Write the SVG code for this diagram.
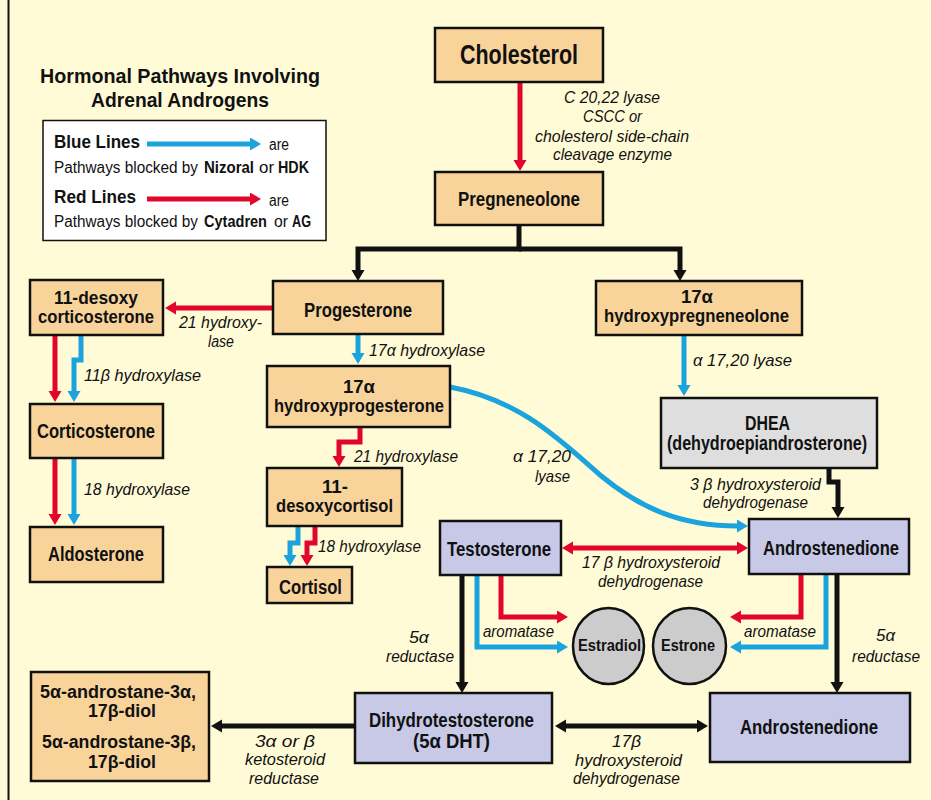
<svg xmlns="http://www.w3.org/2000/svg" width="931" height="800" viewBox="0 0 931 800">
<defs>
<style>
.bg{fill:#FFFBD6}
.box{stroke:#111;stroke-width:2.5}
.o{fill:#F8D49A}
.l{fill:#C7C9E7}
.g{fill:#DEDEDE}
.c{fill:#CCCCCC}
text{font-family:"Liberation Sans Narrow","Liberation Sans",Arial,sans-serif;fill:#111}
.b{font-weight:bold;font-size:20px}
.b2{font-weight:bold;font-size:18px}
.i{font-style:italic;font-size:17px}
.r{font-size:16px}
.bt{font-weight:bold}
.ln{fill:none;stroke-width:5;stroke-linejoin:miter}
.red{stroke:#E2062C}
.blu{stroke:#1BA3DD}
.blk{stroke:#111}
</style>
<marker id="ar" markerUnits="userSpaceOnUse" markerWidth="14" markerHeight="14" refX="1" refY="6.5" orient="auto-start-reverse"><path d="M0,0 L11,6.5 L0,13 Z" fill="#E2062C"/></marker>
<marker id="ab" markerUnits="userSpaceOnUse" markerWidth="14" markerHeight="14" refX="1" refY="6.5" orient="auto-start-reverse"><path d="M0,0 L11,6.5 L0,13 Z" fill="#1BA3DD"/></marker>
<marker id="ak" markerUnits="userSpaceOnUse" markerWidth="14" markerHeight="14" refX="1" refY="6.5" orient="auto-start-reverse"><path d="M0,0 L11,6.5 L0,13 Z" fill="#111"/></marker>
</defs>
<rect class="bg" x="0" y="0" width="931" height="800"/>
<line x1="8.5" y1="0" x2="8.5" y2="800" stroke="#111" stroke-width="2"/>

<g id="title">
<text class="b" style="font-size:21px" x="40" y="83" textLength="280" lengthAdjust="spacingAndGlyphs">Hormonal Pathways Involving</text>
<text class="b" style="font-size:21px" x="91" y="107" textLength="178" lengthAdjust="spacingAndGlyphs">Adrenal Androgens</text>
</g>

<g id="legend">
<rect x="43" y="120.5" width="283" height="120" fill="#fff" stroke="#111" stroke-width="1.5"/>
<text class="b" style="font-size:18.5px" x="54" y="148" textLength="86" lengthAdjust="spacingAndGlyphs">Blue Lines</text>
<line class="ln blu" x1="147" y1="144" x2="251" y2="144" marker-end="url(#ab)"/>
<text class="r" x="269" y="150" textLength="20" lengthAdjust="spacingAndGlyphs">are</text>
<text class="r" x="54" y="173"><tspan textLength="144" lengthAdjust="spacingAndGlyphs">Pathways blocked by</tspan><tspan x="204" class="bt" textLength="50" lengthAdjust="spacingAndGlyphs">Nizoral</tspan><tspan x="259" textLength="15" lengthAdjust="spacingAndGlyphs">or</tspan><tspan x="278" class="bt" textLength="31" lengthAdjust="spacingAndGlyphs">HDK</tspan></text>
<text class="b" style="font-size:18.5px" x="54" y="203" textLength="82" lengthAdjust="spacingAndGlyphs">Red Lines</text>
<line class="ln red" x1="147" y1="199" x2="251" y2="199" marker-end="url(#ar)"/>
<text class="r" x="269" y="206" textLength="20" lengthAdjust="spacingAndGlyphs">are</text>
<text class="r" x="54" y="227"><tspan textLength="144" lengthAdjust="spacingAndGlyphs">Pathways blocked by</tspan><tspan x="204" class="bt" textLength="63" lengthAdjust="spacingAndGlyphs">Cytadren</tspan><tspan x="274" textLength="14" lengthAdjust="spacingAndGlyphs">or</tspan><tspan x="292" class="bt" textLength="19" lengthAdjust="spacingAndGlyphs">AG</tspan></text>
</g>

<g id="connectors">
<path class="ln red" d="M520,82 V161" marker-end="url(#ar)"/>
<path class="ln blk" d="M519,225 V249 H358 V271" marker-end="url(#ak)"/>
<path class="ln blk" d="M519,249 H680 V271" marker-end="url(#ak)"/>
<path class="ln red" d="M273,308 H175" marker-end="url(#ar)"/>
<path class="ln red" d="M55,335 V392" marker-end="url(#ar)"/>
<path class="ln blu" d="M81,335 V360 H74 V392" marker-end="url(#ab)"/>
<path class="ln red" d="M55,458 V515" marker-end="url(#ar)"/>
<path class="ln blu" d="M74,458 V515" marker-end="url(#ab)"/>
<path class="ln blu" d="M358,334 V354" marker-end="url(#ab)"/>
<path class="ln red" d="M360,427 V442 H339 V457" marker-end="url(#ar)"/>
<path class="ln blu" d="M298,526 V543 H290 V556" marker-end="url(#ab)"/>
<path class="ln red" d="M315,526 V543 H307 V556" marker-end="url(#ar)"/>
<path class="ln blu" d="M450,387 C520,400 560,440 600,475 C640,508 680,526 738,526" marker-end="url(#ab)"/>
<path class="ln blu" d="M684,335 V386" marker-end="url(#ab)"/>
<path class="ln blk" d="M829,468 V482 H838 V508" marker-end="url(#ak)"/>
<path class="ln red" d="M572,548 H738" marker-start="url(#ar)" marker-end="url(#ar)"/>
<path class="ln blk" d="M462,576 V683" marker-end="url(#ak)"/>
<path class="ln blu" d="M477,576 V647 H558" marker-end="url(#ab)"/>
<path class="ln red" d="M501,576 V617 H558" marker-end="url(#ar)"/>
<path class="ln red" d="M801,574 V617 H740" marker-end="url(#ar)"/>
<path class="ln blu" d="M826,574 V647 H740" marker-end="url(#ab)"/>
<path class="ln blk" d="M837,574 V683" marker-end="url(#ak)"/>
<path class="ln blk" d="M565,726 H698" marker-start="url(#ak)" marker-end="url(#ak)"/>
<path class="ln blk" d="M355,726 H221" marker-end="url(#ak)"/>
</g>

<g id="labels">
<text class="i" x="564" y="103" textLength="96" lengthAdjust="spacingAndGlyphs">C 20,22 lyase</text>
<text class="i" x="583" y="122" textLength="59" lengthAdjust="spacingAndGlyphs">CSCC or</text>
<text class="i" x="535" y="142" textLength="154" lengthAdjust="spacingAndGlyphs">cholesterol side-chain</text>
<text class="i" x="553" y="160" textLength="119" lengthAdjust="spacingAndGlyphs">cleavage enzyme</text>
<text class="i" x="179" y="328" textLength="83" lengthAdjust="spacingAndGlyphs">21 hydroxy-</text>
<text class="i" x="208" y="347" textLength="26" lengthAdjust="spacingAndGlyphs">lase</text>
<text class="i" x="84" y="381" textLength="117" lengthAdjust="spacingAndGlyphs">11β hydroxylase</text>
<text class="i" x="84" y="495" textLength="106" lengthAdjust="spacingAndGlyphs">18 hydroxylase</text>
<text class="i" x="369" y="356" textLength="116" lengthAdjust="spacingAndGlyphs">17α hydroxylase</text>
<text class="i" x="354" y="462" textLength="104" lengthAdjust="spacingAndGlyphs">21 hydroxylase</text>
<text class="i" x="318" y="552" textLength="103" lengthAdjust="spacingAndGlyphs">18 hydroxylase</text>
<text class="i" x="693" y="366" textLength="99" lengthAdjust="spacingAndGlyphs">α 17,20  lyase</text>
<text class="i" x="690" y="490" textLength="131" lengthAdjust="spacingAndGlyphs">3 β hydroxysteroid</text>
<text class="i" x="703" y="508" textLength="105" lengthAdjust="spacingAndGlyphs">dehydrogenase</text>
<text class="i" x="513" y="462" textLength="58" lengthAdjust="spacingAndGlyphs">α 17,20</text>
<text class="i" x="535" y="482" textLength="35" lengthAdjust="spacingAndGlyphs">lyase</text>
<text class="i" x="582" y="568" textLength="138" lengthAdjust="spacingAndGlyphs">17 β hydroxysteroid</text>
<text class="i" x="598" y="587" textLength="105" lengthAdjust="spacingAndGlyphs">dehydrogenase</text>
<text class="i" x="483" y="637" textLength="71" lengthAdjust="spacingAndGlyphs">aromatase</text>
<text class="i" x="744" y="637" textLength="72" lengthAdjust="spacingAndGlyphs">aromatase</text>
<text class="i" x="409" y="643" textLength="20" lengthAdjust="spacingAndGlyphs">5α</text>
<text class="i" x="386" y="662" textLength="68" lengthAdjust="spacingAndGlyphs">reductase</text>
<text class="i" x="876" y="641" textLength="19" lengthAdjust="spacingAndGlyphs">5α</text>
<text class="i" x="852" y="662" textLength="68" lengthAdjust="spacingAndGlyphs">reductase</text>
<text class="i" x="255" y="747" textLength="60" lengthAdjust="spacingAndGlyphs">3α or β</text>
<text class="i" x="245" y="765" textLength="80" lengthAdjust="spacingAndGlyphs">ketosteroid</text>
<text class="i" x="249" y="784" textLength="70" lengthAdjust="spacingAndGlyphs">reductase</text>
<text class="i" x="612" y="747" textLength="29" lengthAdjust="spacingAndGlyphs">17β</text>
<text class="i" x="575" y="766" textLength="107" lengthAdjust="spacingAndGlyphs">hydroxysteroid</text>
<text class="i" x="573" y="784" textLength="107" lengthAdjust="spacingAndGlyphs">dehydrogenase</text>
</g>

<g id="cholesterol"><rect class="box o" x="435" y="28" width="168" height="54"/>
<text class="b" style="font-size:27px" x="460" y="64" textLength="118" lengthAdjust="spacingAndGlyphs">Cholesterol</text></g>
<g id="pregneneolone"><rect class="box o" x="435" y="172" width="168" height="53"/>
<text class="b" x="458" y="206" textLength="122" lengthAdjust="spacingAndGlyphs">Pregneneolone</text></g>
<g id="desoxycorticosterone"><rect class="box o" x="30" y="280" width="133" height="55"/>
<text class="b2" x="54" y="304" textLength="84" lengthAdjust="spacingAndGlyphs">11-desoxy</text>
<text class="b2" x="38" y="323" textLength="116" lengthAdjust="spacingAndGlyphs">corticosterone</text></g>
<g id="progesterone"><rect class="box o" x="273" y="281" width="170" height="53"/>
<text class="b" x="304" y="317" textLength="108" lengthAdjust="spacingAndGlyphs">Progesterone</text></g>
<g id="hydroxypregneneolone"><rect class="box o" x="596" y="281" width="206" height="54"/>
<text class="b2" x="681" y="303" textLength="32" lengthAdjust="spacingAndGlyphs">17α</text>
<text class="b2" x="604" y="322" textLength="185" lengthAdjust="spacingAndGlyphs">hydroxypregneneolone</text></g>
<g id="corticosterone"><rect class="box o" x="30" y="404" width="133" height="54"/>
<text class="b" x="37" y="438" textLength="118" lengthAdjust="spacingAndGlyphs">Corticosterone</text></g>
<g id="aldosterone"><rect class="box o" x="30" y="527" width="133" height="55"/>
<text class="b" x="48" y="561" textLength="96" lengthAdjust="spacingAndGlyphs">Aldosterone</text></g>
<g id="hydroxyprogesterone"><rect class="box o" x="267" y="366" width="183" height="61"/>
<text class="b2" x="343" y="393" textLength="32" lengthAdjust="spacingAndGlyphs">17α</text>
<text class="b2" x="274" y="412" textLength="170" lengthAdjust="spacingAndGlyphs">hydroxyprogesterone</text></g>
<g id="desoxycortisol"><rect class="box o" x="267" y="468" width="135" height="58"/>
<text class="b2" x="322" y="493" textLength="26" lengthAdjust="spacingAndGlyphs">11-</text>
<text class="b2" x="276" y="512" textLength="117" lengthAdjust="spacingAndGlyphs">desoxycortisol</text></g>
<g id="cortisol"><rect class="box o" x="267" y="567" width="85" height="36"/>
<text class="b" x="279" y="594" textLength="63" lengthAdjust="spacingAndGlyphs">Cortisol</text></g>
<g id="dhea"><rect class="box g" x="661" y="398" width="216" height="70"/>
<text class="b" x="745" y="430" textLength="45" lengthAdjust="spacingAndGlyphs">DHEA</text>
<text class="b" x="667" y="450" textLength="200" lengthAdjust="spacingAndGlyphs">(dehydroepiandrosterone)</text></g>
<g id="testosterone"><rect class="box l" x="440" y="521" width="121" height="54"/>
<text class="b" x="447" y="556" textLength="104" lengthAdjust="spacingAndGlyphs">Testosterone</text></g>
<g id="androstenedione1"><rect class="box l" x="749" y="519" width="160" height="55"/>
<text class="b" x="763" y="555" textLength="136" lengthAdjust="spacingAndGlyphs">Androstenedione</text></g>
<g id="estradiol"><ellipse class="box c" cx="608.5" cy="646" rx="35.5" ry="38"/>
<text class="b" style="font-size:17px" x="578" y="651" textLength="63" lengthAdjust="spacingAndGlyphs">Estradiol</text></g>
<g id="estrone"><ellipse class="box c" cx="689.5" cy="646" rx="36.5" ry="38"/>
<text class="b" style="font-size:17px" x="661" y="651" textLength="54" lengthAdjust="spacingAndGlyphs">Estrone</text></g>
<g id="androstanediol"><rect class="box o" x="31" y="672" width="178" height="109"/>
<text class="b2" x="40" y="698" textLength="156" lengthAdjust="spacingAndGlyphs">5α-androstane-3α,</text>
<text class="b2" x="88" y="717" textLength="68" lengthAdjust="spacingAndGlyphs">17β-diol</text>
<text class="b2" x="42" y="748" textLength="154" lengthAdjust="spacingAndGlyphs">5α-androstane-3β,</text>
<text class="b2" x="88" y="768" textLength="68" lengthAdjust="spacingAndGlyphs">17β-diol</text></g>
<g id="dht"><rect class="box l" x="355" y="693" width="197" height="70"/>
<text class="b" x="369" y="727" textLength="165" lengthAdjust="spacingAndGlyphs">Dihydrotestosterone</text>
<text class="b" x="413" y="748" textLength="77" lengthAdjust="spacingAndGlyphs">(5α DHT)</text></g>
<g id="androstenedione2"><rect class="box l" x="710" y="693" width="200" height="69"/>
<text class="b" x="740" y="734" textLength="138" lengthAdjust="spacingAndGlyphs">Androstenedione</text></g>
</svg>
